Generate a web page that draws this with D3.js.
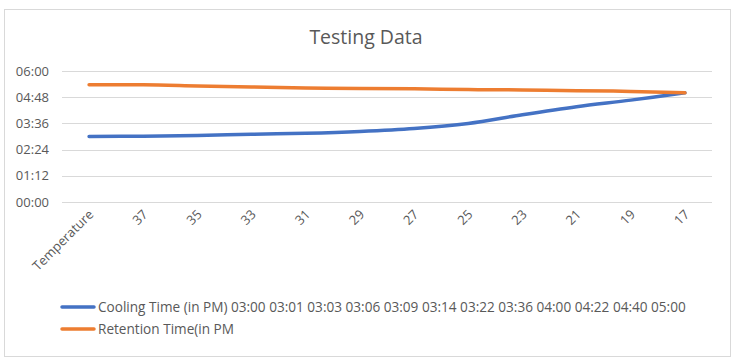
<!DOCTYPE html>
<html><head><meta charset="utf-8">
<script src="https://cdn.jsdelivr.net/npm/d3@7"></script>
<style>body{margin:0;background:#fff;} text{font-family:"Open Sans",sans-serif;fill:#595959;}</style>
</head><body>
<svg id="c" width="740" height="364"></svg>
<script>
const categories = ["Temperature","37","35","33","31","29","27","25","23","21","19","17"];
const coolingTime = ["03:00","03:01","03:03","03:06","03:09","03:14","03:22","03:36","04:00","04:22","04:40","05:00"];
const retentionTime = ["05:22","05:22","05:19","05:16","05:13","05:12","05:11","05:09","05:08","05:06","05:04","05:00"];
const yTicks = ["00:00","01:12","02:24","03:36","04:48","06:00"];
const seriesNames = ["Cooling Time (in PM) " + coolingTime.join(" "), "Retention Time(in PM"];
const colors = ["#4472c4","#ed7d31"];

const toMin = s => { const [h,m] = s.split(":").map(Number); return h*60+m; };
const svg = d3.select("#c");
svg.append("rect").attr("x",4.5).attr("y",9.5).attr("width",726).attr("height",347)
  .attr("fill","#fff").attr("stroke","#d9d9d9");

const x = d3.scaleBand().domain(categories).range([62,712]);
const y = d3.scaleLinear().domain([0,360]).range([202,71]);

svg.append("text").attr("x",366).attr("y",44).attr("text-anchor","middle")
  .style("font-size","19.5px").text("Testing Data");

const g = svg.append("g");
yTicks.forEach(t => {
  const v = toMin(t);
  g.append("line").attr("x1",62).attr("x2",712).attr("y1",Math.round(y(v))+0.5).attr("y2",Math.round(y(v))+0.5)
    .attr("stroke","#d9d9d9").attr("stroke-width",1);
  g.append("text").attr("x",49).attr("y",y(v)).attr("dy","0.35em").attr("text-anchor","end")
    .style("font-size","13px").text(t);
});

categories.forEach(c => {
  const cx = x(c) + x.bandwidth()/2;
  g.append("text").attr("transform",`translate(${cx+2},${212}) rotate(-45)`)
    .attr("text-anchor","end").attr("dy","0.35em").style("font-size","13px").text(c);
});

const line = d3.line().x((d,i)=>x(categories[i])+x.bandwidth()/2).y(d=>y(toMin(d))).curve(d3.curveCatmullRom.alpha(0.5));
[coolingTime, retentionTime].forEach((s,i) => {
  g.append("path").attr("d",line(s)).attr("fill","none").attr("stroke",colors[i])
    .attr("stroke-width",3.5).attr("stroke-linecap","round");
});

seriesNames.forEach((n,i) => {
  const ly = 307 + i*22;
  svg.append("line").attr("x1",62).attr("x2",94).attr("y1",ly).attr("y2",ly)
    .attr("stroke",colors[i]).attr("stroke-width",3.5).attr("stroke-linecap","round");
  svg.append("text").attr("x",98).attr("y",ly).attr("dy","0.35em").style("font-size","13.6px").text(n);
});
</script>
</body></html>
